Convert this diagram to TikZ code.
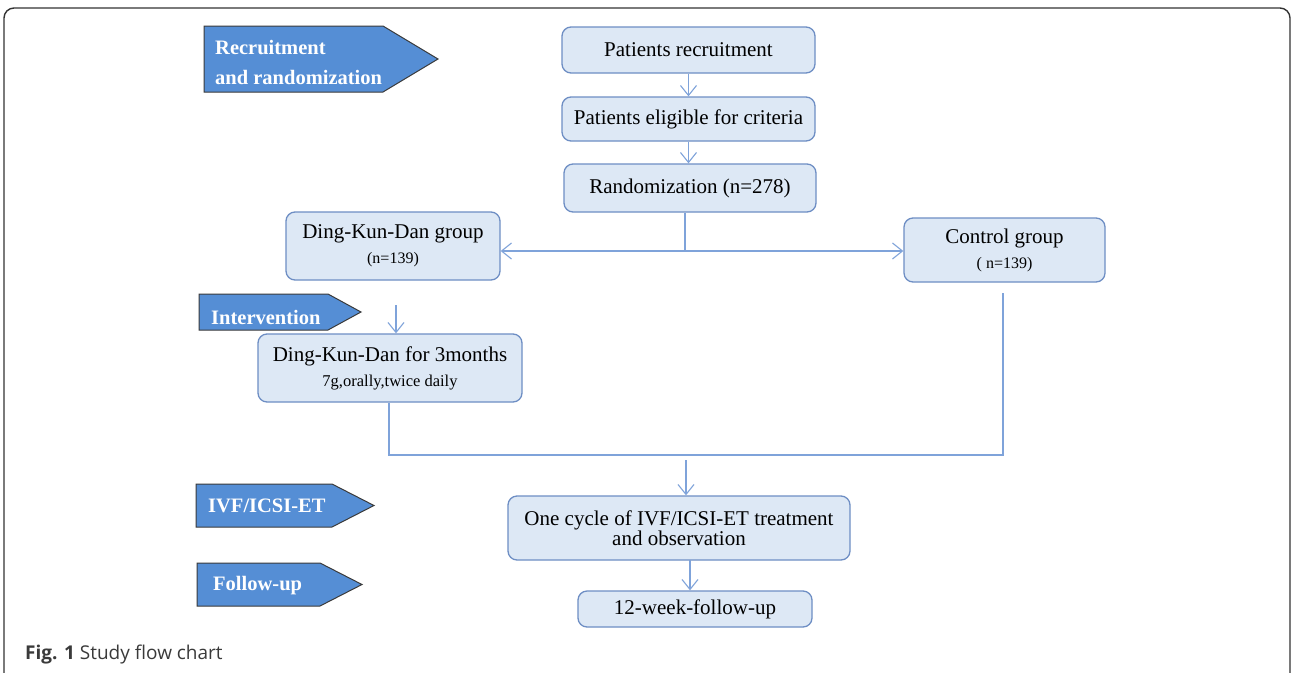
\documentclass[tikz,border=0pt]{standalone}
\usepackage{fontspec}
\setmainfont{Liberation Serif}
\newfontfamily\capfont{Open Sans}
\usetikzlibrary{arrows.meta}
\definecolor{boxfill}{HTML}{DDE8F5}
\definecolor{boxline}{HTML}{6E8EC4}
\definecolor{arrline}{HTML}{7FA3DA}
\definecolor{tagfill}{HTML}{558ED5}
\definecolor{tagline}{HTML}{3A3A3A}
\definecolor{capgray}{HTML}{3A3A3A}
\tikzset{
  flowbox/.style={draw=boxline, fill=boxfill, line width=1.3pt, rounded corners=9pt, align=center, inner sep=0pt, font=\fontsize{21}{23}\selectfont},
  subtext/.style={font=\fontsize{17.5}{19}\selectfont},
  tagshape/.style={draw=tagline, fill=tagfill, line width=1pt},
  tagtext/.style={text=white, font=\bfseries\fontsize{20.5}{30}\selectfont, anchor=west, align=left, inner sep=0pt},
  conn/.style={draw=arrline, line width=1.3pt},
  arr/.style={conn, -{Straight Barb[length=10pt,width=16pt,line width=1.1pt]}},
  arrb/.style={conn, {Straight Barb[length=10pt,width=16pt,line width=1.1pt]}-{Straight Barb[length=10pt,width=16pt,line width=1.1pt]}},
}
\begin{document}
\begin{tikzpicture}[x=1pt,y=-1pt]
\useasboundingbox (0,0) rectangle (1292,672);
\fill[white] (0,0) rectangle (1292,672);
% outer frame
\draw[line width=1.4pt, draw=black!80, rounded corners=10pt] (4,690) -- (4,8) -- (1290,8) -- (1290,690);

% flow boxes
\node[flowbox, minimum width=253pt, minimum height=46pt] (rec) at (688.5,50) {Patients recruitment};
\node[flowbox, minimum width=253pt, minimum height=44pt] (elig) at (688.5,119) {Patients eligible for criteria};
\node[flowbox, minimum width=252pt, minimum height=48pt] (rand) at (690,188) {Randomization (n=278)};
\node[flowbox, minimum width=214pt, minimum height=68pt] (dkd) at (393,246) {Ding-Kun-Dan group\\[2pt]{\fontsize{16}{18}\selectfont (n=139)}};
\node[flowbox, minimum width=201pt, minimum height=64pt] (ctrl) at (1004.5,250) {Control group\\[2pt]{\fontsize{16}{18}\selectfont ( n=139)}};
\node[flowbox, minimum width=264pt, minimum height=68pt] (dkd3) at (390,368) {Ding-Kun-Dan for 3months\\[2pt]{\fontsize{16.5}{18}\selectfont 7g,orally,twice daily}};
\node[flowbox, minimum width=342pt, minimum height=64pt, font=\fontsize{21}{20}\selectfont] (ivf) at (679,528) {One cycle of IVF/ICSI-ET treatment\\and observation};
\node[flowbox, minimum width=234pt, minimum height=36pt] (fu) at (695,609) {12-week-follow-up};

% connectors
\coordinate (split) at (685,251);
\coordinate (dkdtop) at (396,305);
\coordinate (ctrltop) at (1003,293);
\coordinate (lj) at (389,455);
\coordinate (rj) at (1003,455);
\coordinate (midtop) at (686,460);
\coordinate (fuTop) at (690,560);
\draw[arr] (rec.south) -- (elig.north);
\draw[arr] (elig.south) -- (elig.south |- rand.north);
\draw[conn] (rand.south -| split) -- (split);
\draw[arrb] (dkd.east |- split) -- (ctrl.west |- split);
\draw[arr] (dkdtop) -- (dkdtop |- dkd3.north);
\draw[conn] (dkd3.south -| lj) -- (lj) -- (rj) -- (ctrltop);
\draw[arr] (midtop) -- (midtop |- ivf.north);
\draw[arr] (fuTop) -- (fuTop |- fu.north);

% stage tags
\draw[tagshape] (204,26) -- (383,26) -- (438,59) -- (383,92) -- (204,92) -- cycle;
\node[tagtext] (t1) at (215,62) {Recruitment\\and randomization};
\draw[tagshape] (199,294) -- (328,294) -- (361,312) -- (328,330) -- (199,330) -- cycle;
\node[tagtext] (t2) at (211,317) {Intervention};
\draw[tagshape] (196,484) -- (332,484) -- (374,505.5) -- (332,527) -- (196,527) -- cycle;
\node[tagtext] (t3) at (208,506) {IVF/ICSI-ET};
\draw[tagshape] (197,563) -- (320,563) -- (362,584.5) -- (320,606) -- (197,606) -- cycle;
\node[tagtext] (t4) at (213,586) {Follow-up};

% caption
\node[anchor=west, inner sep=0pt, text=capgray, font=\capfont\fontsize{19}{21}\selectfont] (cap) at (25,655) {\textbf{Fig. 1} Study flow chart};
\end{tikzpicture}
\end{document}
